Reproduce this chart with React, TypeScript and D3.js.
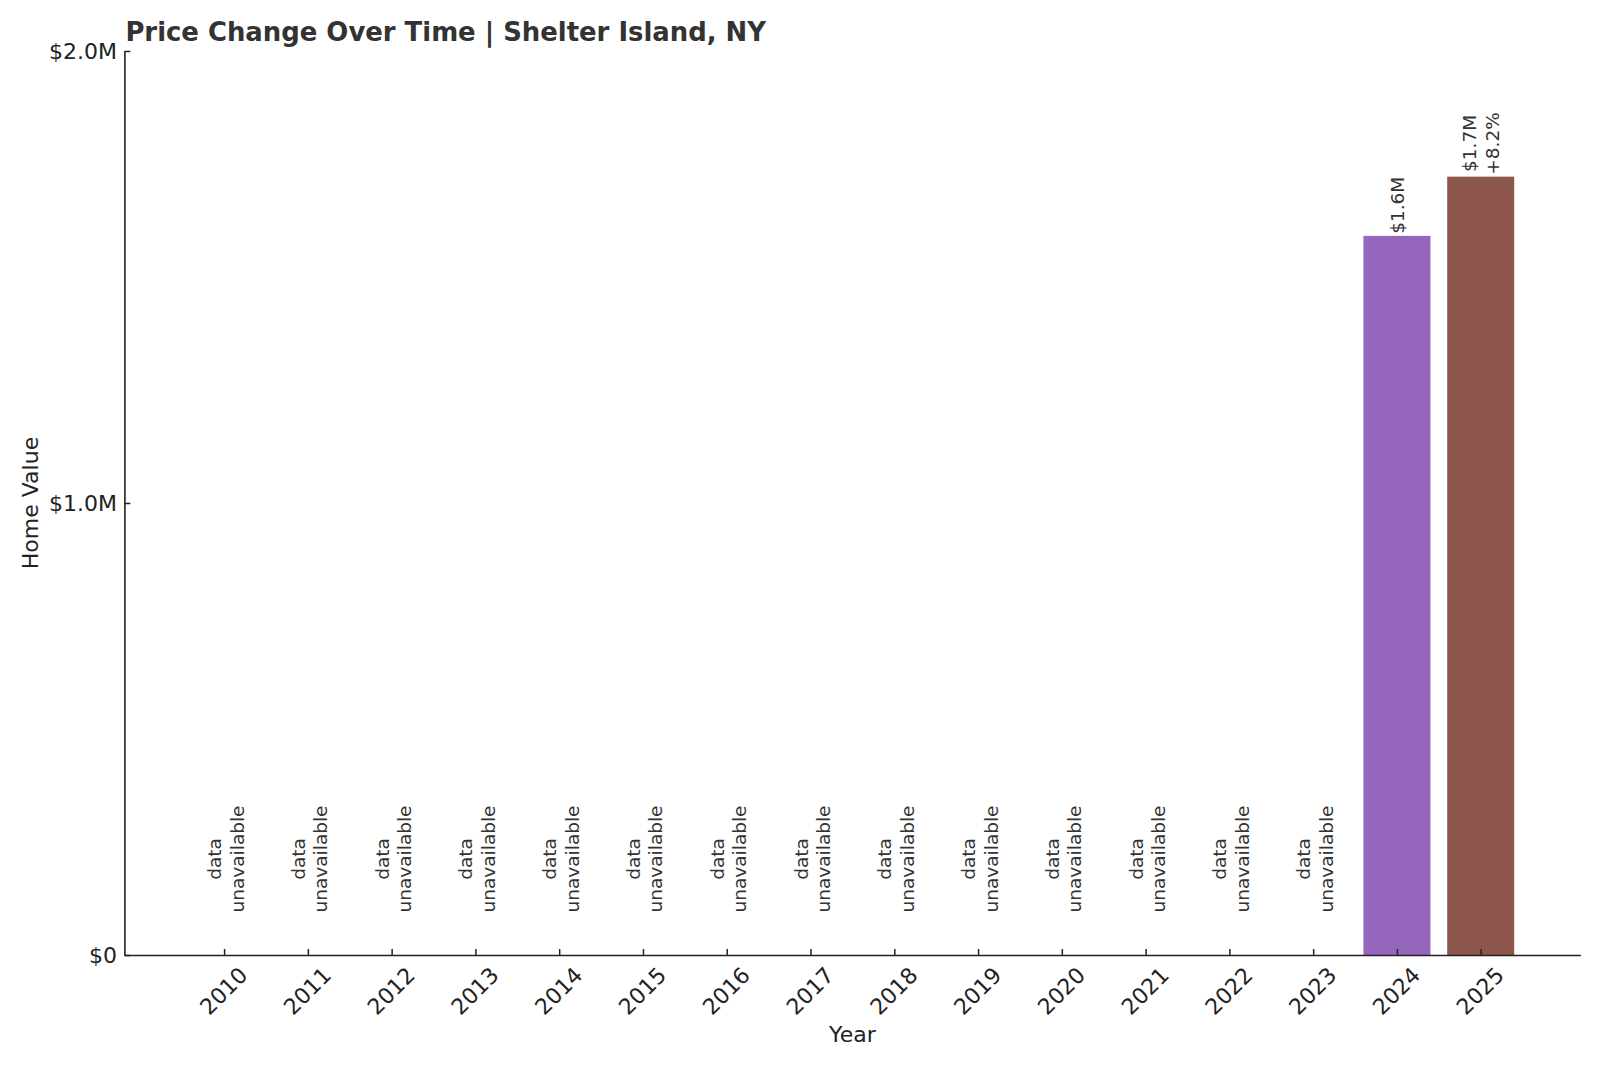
import React, { useEffect, useRef } from "react";
import * as d3 from "d3";

// chart data
const years = [
  "2010", "2011", "2012", "2013", "2014", "2015", "2016", "2017",
  "2018", "2019", "2020", "2021", "2022", "2023", "2024", "2025",
];
// null = data unavailable
const homeValues: (number | null)[] = [
  null, null, null, null, null, null, null, null,
  null, null, null, null, null, null, 1591000, 1722000,
];
const barLabels: string[][] = [
  [], [], [], [], [], [], [], [], [], [], [], [], [], [],
  ["$1.6M"],
  ["$1.7M", "+8.2%"],
];
const barColors = ["#9467bd", "#8c564b"];
const yTicks = [0, 1000000, 2000000];
const yTickLabels = ["$0", "$1.0M", "$2.0M"];

const W = 1600;
const H = 1067;
const FONT = "DejaVu Sans, Verdana, sans-serif";

const App: React.FC = () => {
  const svgRef = useRef<SVGSVGElement | null>(null);

  useEffect(() => {
    if (!svgRef.current) return;
    const svg = d3.select(svgRef.current);
    svg.selectAll("*").remove();

    const margin = { top: 51, right: 19.6, bottom: 112, left: 124.4 };
    const chartWidth = W - margin.left - margin.right;
    const chartHeight = H - margin.top - margin.bottom;

    const g = svg
      .append("g")
      .attr("transform", `translate(${margin.left},${margin.top})`);

    // matplotlib-like x limits: bar width 0.8, 5% margins
    const n = years.length;
    const span = n - 1 + 0.8;
    const pad = span * 0.05;
    const x = d3
      .scaleLinear()
      .domain([-0.4 - pad, n - 1 + 0.4 + pad])
      .range([0, chartWidth]);
    const barW = x(0.8) - x(0);

    const y = d3.scaleLinear().domain([0, 2000000]).range([chartHeight, 0]);

    // bars + annotations
    let colorIdx = 0;
    homeValues.forEach((v, i) => {
      const cx = x(i);
      if (v === null) {
        const t = g
          .append("text")
          .attr("transform", `translate(${cx},${y(0) - 96}) rotate(-90)`)
          .attr("text-anchor", "middle")
          .attr("font-family", FONT)
          .attr("font-size", 18.5)
          .attr("fill", "#333");
        t.append("tspan").attr("x", 0).attr("dy", -3).text("data");
        t.append("tspan").attr("x", 0).attr("dy", 22.5).text("unavailable");
        return;
      }
      g.append("rect")
        .attr("x", cx - barW / 2)
        .attr("y", y(v))
        .attr("width", barW)
        .attr("height", y(0) - y(v))
        .attr("fill", barColors[colorIdx++ % barColors.length]);

      const lines = barLabels[i];
      const t = g
        .append("text")
        .attr("transform", `translate(${cx},${y(v) - 2}) rotate(-90)`)
        .attr("text-anchor", "start")
        .attr("font-family", FONT)
        .attr("font-size", 18.5)
        .attr("fill", "#333");
      const first = lines.length === 1 ? 7 : -4.5;
      const spans = lines.map((l, k) =>
        t
          .append("tspan")
          .attr("x", 0)
          .attr("dy", k === 0 ? first : 23)
          .text(l),
      );
      // center-align lines like a multi-line label
      const lens = spans.map((s) => (s.node() as SVGTSpanElement).getComputedTextLength());
      const maxLen = d3.max(lens) || 0;
      spans.forEach((s, k) => s.attr("x", (maxLen - lens[k]) / 2));
    });

    // x axis
    g.append("g")
      .attr("transform", `translate(0,${chartHeight})`)
      .call(
        d3
          .axisBottom(x)
          .tickValues(d3.range(n))
          .tickFormat((d) => years[d as number])
          .tickSize(-6)
          .tickSizeOuter(0),
      )
      .call((ax) => ax.select(".domain").attr("stroke", "#222").attr("stroke-width", 1.6))
      .call((ax) => ax.selectAll(".tick line").attr("stroke", "#222").attr("stroke-width", 1.5))
      .call((ax) =>
        ax
          .selectAll(".tick text")
          .attr("font-family", FONT)
          .attr("font-size", 22)
          .attr("fill", "#222")
          .attr("text-anchor", "middle")
          .attr("x", 0)
          .attr("y", 0)
          .attr("dy", "0.35em")
          .attr("transform", "translate(-1,36) rotate(-45)"),
      );

    // y axis
    g.append("g")
      .call(
        d3
          .axisLeft(y)
          .tickValues(yTicks)
          .tickFormat((d, i) => yTickLabels[i])
          .tickSize(-6)
          .tickPadding(7.5)
          .tickSizeOuter(0),
      )
      .call((ax) => ax.select(".domain").attr("stroke", "#222").attr("stroke-width", 1.6))
      .call((ax) => ax.selectAll(".tick line").attr("stroke", "#222").attr("stroke-width", 1.5))
      .call((ax) =>
        ax
          .selectAll(".tick text")
          .attr("font-family", FONT)
          .attr("font-size", 22)
          .attr("fill", "#222"),
      );

    // axis titles
    svg
      .append("text")
      .attr("x", margin.left + chartWidth / 2)
      .attr("y", 1042)
      .attr("text-anchor", "middle")
      .attr("font-family", FONT)
      .attr("font-size", 22)
      .attr("fill", "#222")
      .text("Year");

    svg
      .append("text")
      .attr("transform", `translate(37.5,${margin.top + chartHeight / 2}) rotate(-90)`)
      .attr("text-anchor", "middle")
      .attr("font-family", FONT)
      .attr("font-size", 22)
      .attr("fill", "#222")
      .text("Home Value");

    // title
    svg
      .append("text")
      .attr("x", margin.left + 1)
      .attr("y", 40.5)
      .attr("font-family", FONT)
      .attr("font-size", 25.9)
      .attr("font-weight", "bold")
      .attr("fill", "#333")
      .text("Price Change Over Time | Shelter Island, NY");
  }, []);

  return (
    <svg
      ref={svgRef}
      width={W}
      height={H}
      style={{ position: "absolute", left: 0, top: 0, background: "#fff" }}
    />
  );
};

export default App;
